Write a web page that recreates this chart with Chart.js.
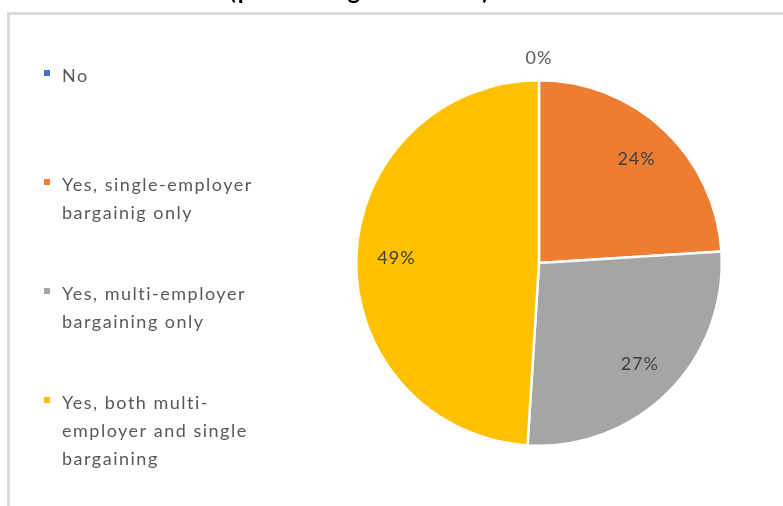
<!DOCTYPE html>
<html>
<head>
<meta charset="utf-8">
<title>Collective bargaining</title>
<script src="https://cdn.jsdelivr.net/npm/chart.js@4.4.1/dist/chart.umd.min.js"></script>
<style>
  html, body { margin: 0; padding: 0; background: #fff; }
  #chart { display: block; }
</style>
</head>
<body>
<canvas id="chart" width="783" height="506"></canvas>
<script>
// answers, each split into the lines shown in the legend
const categories = [
    ['No'],
    ['Yes, single-employer', 'bargainig only'],
    ['Yes, multi-employer', 'bargaining only'],
    ['Yes, both multi-', 'employer and single', 'bargaining']
]
const shares = [0, 24, 27, 49]
const sliceColors = ['#4472C4', '#ED7D31', '#A5A5A5', '#FFC000']
const chartTitle = '(percentage of firms)'

const FONT = 'Lato, "Open Sans", sans-serif'

// frame and the title above it (only its lower part shows)
const framePlugin = {
    id: 'frame',
    beforeDraw(chart) {
        const c = chart.ctx
        c.save()
        c.fillStyle = '#fff'
        c.fillRect(0, 0, chart.width, chart.height)
        c.strokeStyle = '#dadada'
        c.lineWidth = 3
        c.beginPath()
        c.moveTo(8.5, chart.height)
        c.lineTo(8.5, 13.5)
        c.lineTo(chart.width, 13.5)
        c.stroke()

        c.fillStyle = '#000'
        c.font = 'bold 24px ' + FONT
        c.letterSpacing = '2px'
        c.textAlign = 'center'
        c.textBaseline = 'alphabetic'
        c.fillText(chartTitle, 360, -1)
        c.restore()
    }
}

// legend on the left, one block per answer
const sideLegend = {
    id: 'sideLegend',
    afterDraw(chart) {
        const c = chart.ctx
        const colors = chart.data.datasets[0].backgroundColor
        c.save()
        c.font = '18px ' + FONT
        c.letterSpacing = '1.5px'
        c.textBaseline = 'middle'
        c.textAlign = 'left'
        chart.data.labels.forEach((lines, i) => {
            const top = 76 + i * 109
            c.fillStyle = colors[i]
            c.fillRect(44, top - 6, 6, 6)
            c.fillStyle = '#595959'
            lines.forEach((line, j) => {
                c.fillText(line, 62, top + j * 28)
            })
        })
        c.restore()
    }
}

// percentage labels: inside the slice, or just outside when it is empty
const sliceLabels = {
    id: 'sliceLabels',
    afterDatasetsDraw(chart) {
        const c = chart.ctx
        const meta = chart.getDatasetMeta(0)
        const values = chart.data.datasets[0].data
        c.save()
        c.font = '18px ' + FONT
        c.letterSpacing = '1px'
        c.textAlign = 'center'
        c.textBaseline = 'middle'
        meta.data.forEach((arc, i) => {
            const p = arc.getProps(['x', 'y', 'startAngle', 'endAngle', 'outerRadius'], true)
            const mid = (p.startAngle + p.endAngle) / 2
            const empty = values[i] === 0
            const r = empty ? p.outerRadius + 22 : p.outerRadius * 0.78
            c.fillStyle = empty ? '#595959' : '#404040'
            c.fillText(Math.round(values[i]) + '%', p.x + Math.cos(mid) * r, p.y + Math.sin(mid) * r)
        })
        c.restore()
    }
}

const chart = document.querySelector('#chart').getContext('2d')

new Chart(chart, {
    type: 'pie',
    data: {
        labels: categories,
        datasets: [{
            data: shares,
            backgroundColor: sliceColors,
            borderColor: '#fff',
            borderWidth: 2.5
        }]
    },
    options: {
        responsive: false,
        animation: false,
        layout: {
            padding: { left: 355, right: 60, top: 79, bottom: 59 }
        },
        plugins: {
            legend: { display: false },
            tooltip: { enabled: false }
        }
    },
    plugins: [framePlugin, sliceLabels, sideLegend]
})
</script>
</body>
</html>
